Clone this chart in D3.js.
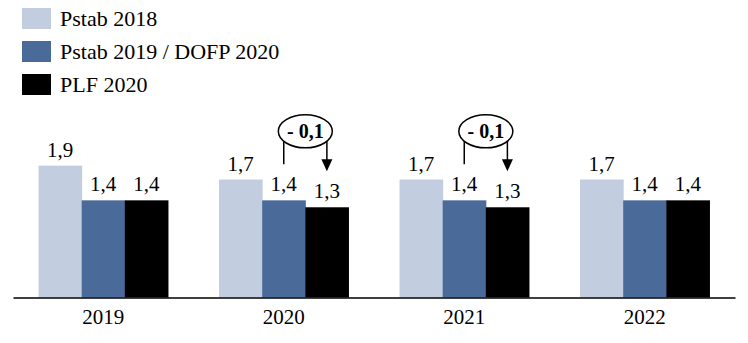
<!DOCTYPE html>
<html lang="fr">
<head>
<meta charset="UTF-8">
<title>Pstab / PLF</title>
<script src="https://d3js.org/d3.v7.min.js"></script>
<style>
  body { margin: 0; background: #fff; }
  svg text { font-family: "Liberation Serif", "DejaVu Serif", serif; fill: #000; }
</style>
</head>
<body>
<div id="chart"></div>
<script>
// data
const years = ["2019", "2020", "2021", "2022"];
const seriesNames = ["Pstab 2018", "Pstab 2019 / DOFP 2020", "PLF 2020"];
const pstab2018 = [1.9, 1.7, 1.7, 1.7];
const pstab2019 = [1.4, 1.4, 1.4, 1.4];
const plf2020 = [1.4, 1.3, 1.3, 1.4];
const deltaYears = ["2020", "2021"];
const deltaLabels = ["- 0,1", "- 0,1"];

const colors = ["#c2cde0", "#4a6a99", "#000000"];
const values = [pstab2018, pstab2019, plf2020];

const W = 748, H = 343;
const svg = d3.select("#chart").append("svg")
    .attr("width", W).attr("height", H);

const baseY = 297.5;
const x0 = d3.scaleBand().domain(years).range([13, 735])
    .paddingInner(0.283).paddingOuter(0.1415);
const x1 = d3.scaleBand().domain(d3.range(3)).range([0, x0.bandwidth()]);
const y = d3.scaleLinear().domain([0, 1]).range([baseY, baseY - 69.4]);

const fmt = v => v.toFixed(1).replace(".", ",");

// bars
years.forEach((yr, i) => {
    const g = svg.append("g").attr("transform", "translate(" + x0(yr) + ",0)");
    values.forEach((s, j) => {
        g.append("rect")
            .attr("x", x1(j))
            .attr("y", y(s[i]))
            .attr("width", x1.bandwidth() + 0.5)
            .attr("height", baseY - y(s[i]))
            .attr("fill", colors[j]);
        g.append("text")
            .attr("x", x1(j) + x1.bandwidth() / 2)
            .attr("y", y(s[i]) - 9)
            .attr("text-anchor", "middle")
            .style("font-size", "21px")
            .text(fmt(s[i]));
    });
});

// x axis
const xAxis = svg.append("g")
    .attr("transform", "translate(0," + baseY + ")")
    .call(d3.axisBottom(x0).tickSize(0).tickPadding(12).tickSizeOuter(0));
xAxis.select(".domain").attr("stroke", "#000").attr("stroke-width", 1.3);
xAxis.selectAll("text")
    .style("font-size", "21px")
    .style("font-family", "'Liberation Serif', serif")
    .attr("dy", "0.71em");

// delta annotations
deltaYears.forEach((yr, k) => {
    const i = years.indexOf(yr);
    const xa = x0(yr) + x1(1) + x1.bandwidth() / 2;
    const xb = x0(yr) + x1(2) + x1.bandwidth() / 2;
    const cx = x0(yr) + x1(2);
    const cy = y(pstab2019[i]) - 69;
    const g = svg.append("g");
    g.append("line")
        .attr("x1", xa).attr("x2", xa)
        .attr("y1", cy).attr("y2", y(pstab2019[i]) - 36)
        .attr("stroke", "#000").attr("stroke-width", 1.5);
    const tipY = y(plf2020[i]) - 36;
    g.append("line")
        .attr("x1", xb).attr("x2", xb)
        .attr("y1", cy).attr("y2", tipY - 10)
        .attr("stroke", "#000").attr("stroke-width", 1.5);
    g.append("path")
        .attr("d", "M" + (xb - 5.5) + "," + (tipY - 12) + "L" + (xb + 5.5) + "," + (tipY - 12) + "L" + xb + "," + tipY + "Z")
        .attr("fill", "#000");
    g.append("ellipse")
        .attr("cx", cx).attr("cy", cy)
        .attr("rx", 27).attr("ry", 16.5)
        .attr("fill", "#fff").attr("stroke", "#000").attr("stroke-width", 1.5);
    g.append("text")
        .attr("x", cx).attr("y", cy + 7)
        .attr("text-anchor", "middle")
        .style("font-size", "20px")
        .style("font-weight", "bold")
        .text(deltaLabels[k]);
});

// legend
const legend = svg.append("g");
seriesNames.forEach((name, j) => {
    legend.append("rect")
        .attr("x", 22).attr("y", 8 + j * 33)
        .attr("width", 29).attr("height", 21)
        .attr("fill", colors[j]);
    legend.append("text")
        .attr("x", 60).attr("y", 26 + j * 33)
        .style("font-size", "22px")
        .text(name);
});
</script>
</body>
</html>
